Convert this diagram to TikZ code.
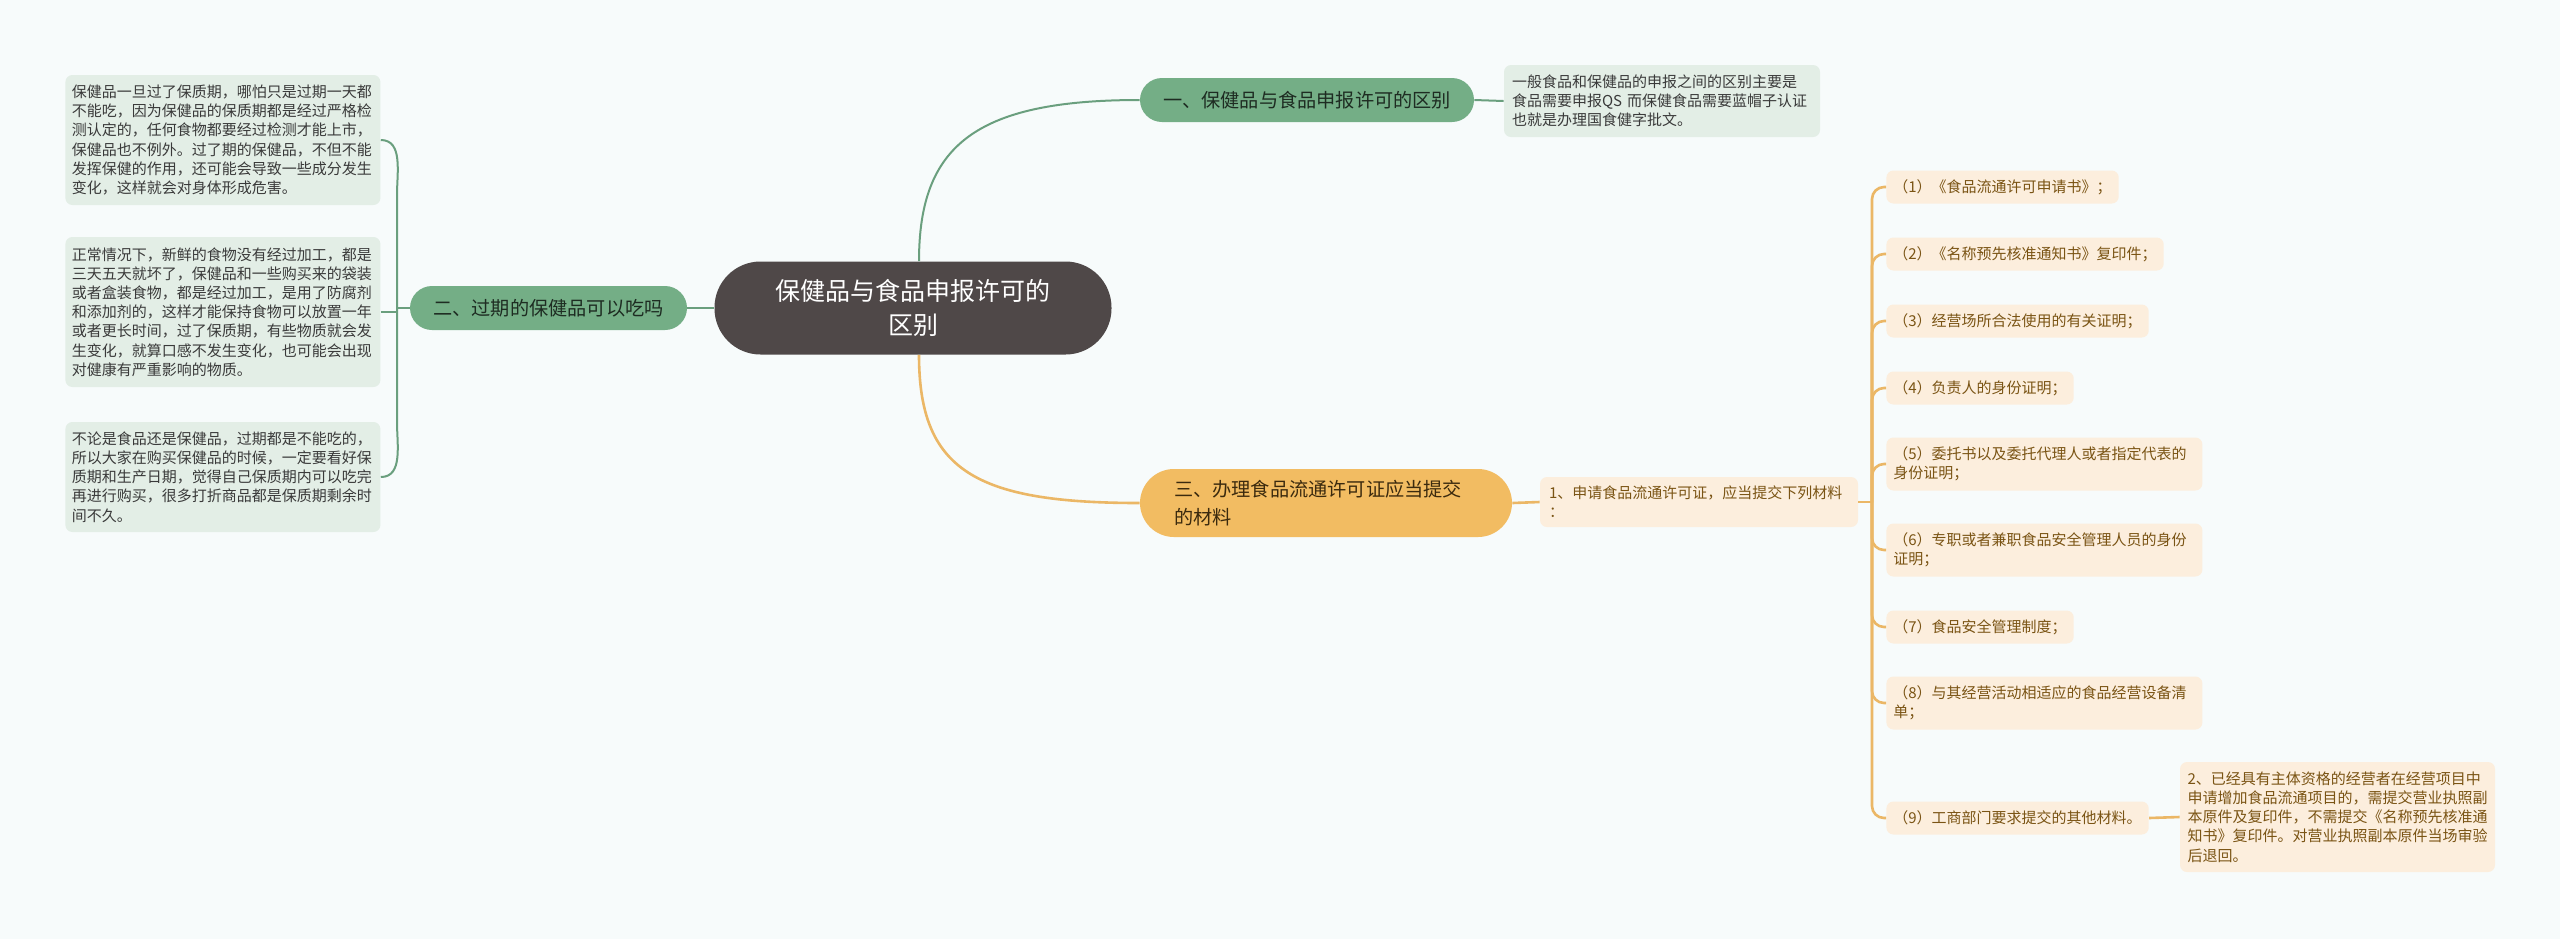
\documentclass[tikz,border=0pt]{standalone}
\usepackage{fontspec}
\setmainfont{Noto Sans CJK SC}
\definecolor{bgc}{HTML}{F7FBFB}
\definecolor{darkc}{HTML}{4F4848}
\definecolor{bgreen}{HTML}{74AE86}
\definecolor{lgreen}{HTML}{E3EEE6}
\definecolor{gtext}{HTML}{1E2C22}
\definecolor{ltext}{HTML}{3A3A3A}
\definecolor{gline}{HTML}{6A9F7E}
\definecolor{borange}{HTML}{F2BC62}
\definecolor{lorange}{HTML}{FCEEDD}
\definecolor{otext}{HTML}{3B2A0E}
\definecolor{btext}{HTML}{7A5414}
\definecolor{oline}{HTML}{EBB766}
\begin{document}
\begin{tikzpicture}[x=0.5pt,y=-0.5pt,
  central/.style={fill=darkc, text=white, rounded corners=23pt, minimum width=198.5pt, minimum height=46.5pt, align=center, inner sep=0pt, font=\fontsize{12.5pt}{17pt}\selectfont},
  branchg/.style={fill=bgreen, text=gtext, rounded corners=11pt, minimum height=22pt, inner sep=0pt, font=\fontsize{9.6pt}{12pt}\selectfont},
  brancho/.style={fill=borange, text=otext, rounded corners=17pt, minimum height=34pt, inner ysep=0pt, align=left, font=\fontsize{9.6pt}{14pt}\selectfont},
  leafg/.style={fill=lgreen, text=ltext, rounded corners=3.5pt, inner ysep=0pt, align=left, font=\fontsize{7.5pt}{9.6pt}\selectfont},
  leafo/.style={fill=lorange, text=btext, rounded corners=3.5pt, inner ysep=0pt, inner xsep=3.5pt, align=left, minimum height=16.5pt, font=\fontsize{7.5pt}{9.6pt}\selectfont},
  gconn/.style={draw=gline, line width=1pt},
  oconn/.style={draw=oline, line width=1.3pt}
]
\fill[bgc] (0,0) rectangle (2560,939);
\useasboundingbox (0,0) rectangle (2560,939);

% central
\node[central] (c) at (913,308) {保健品与食品申报许可的\\区别};

% branch 1
\node[branchg, minimum width=167pt] (b1) at (1307,100) {一、保健品与食品申报许可的区别};
\node[leafg, text width=150pt, inner xsep=4pt, minimum height=36pt] (lf1) at (1662,101) {一般食品和保健品的申报之间的区别主要是\\食品需要申报QS 而保健食品需要蓝帽子认证\\也就是办理国食健字批文。};

% branch 2
\node[branchg, minimum width=138.5pt] (b2) at (548.5,308) {二、过期的保健品可以吃吗};
\node[leafg, text width=151pt, inner xsep=3.25pt, minimum height=65pt, anchor=west] (L1) at (65,140) {保健品一旦过了保质期，哪怕只是过期一天都\\不能吃，因为保健品的保质期都是经过严格检\\测认定的，任何食物都要经过检测才能上市，\\保健品也不例外。过了期的保健品，不但不能\\发挥保健的作用，还可能会导致一些成分发生\\变化，这样就会对身体形成危害。};
\node[leafg, text width=151pt, inner xsep=3.25pt, minimum height=75pt, anchor=west] (L2) at (65,312) {正常情况下，新鲜的食物没有经过加工，都是\\三天五天就坏了，保健品和一些购买来的袋装\\或者盒装食物，都是经过加工，是用了防腐剂\\和添加剂的，这样才能保持食物可以放置一年\\或者更长时间，过了保质期，有些物质就会发\\生变化，就算口感不发生变化，也可能会出现\\对健康有严重影响的物质。};
\node[leafg, text width=151pt, inner xsep=3.25pt, minimum height=55pt, anchor=west] (L3) at (65,477) {不论是食品还是保健品，过期都是不能吃的，\\所以大家在购买保健品的时候，一定要看好保\\质期和生产日期，觉得自己保质期内可以吃完\\再进行购买，很多打折商品都是保质期剩余时\\间不久。};

% branch 3
\node[brancho, text width=152pt, inner xsep=17pt] (b3) at (1326,503) {三、办理食品流通许可证应当提交\\的材料};
\node[leafo, text width=150pt, inner xsep=4.5pt, minimum height=25pt] (n1) at (1699,502) {1、申请食品流通许可证，应当提交下列材料\\：};

\node[leafo, anchor=west] (i1) at (1886,187) {（1）《食品流通许可申请书》；};
\node[leafo, anchor=west] (i2) at (1886,254) {（2）《名称预先核准通知书》复印件；};
\node[leafo, anchor=west] (i3) at (1886,321) {（3）经营场所合法使用的有关证明；};
\node[leafo, anchor=west] (i4) at (1886,388) {（4）负责人的身份证明；};
\node[leafo, anchor=west, text width=151pt, minimum height=26.5pt] (i5) at (1886,464) {（5）委托书以及委托代理人或者指定代表的\\身份证明；};
\node[leafo, anchor=west, text width=151pt, minimum height=26.5pt] (i6) at (1886,550) {（6）专职或者兼职食品安全管理人员的身份\\证明；};
\node[leafo, anchor=west] (i7) at (1886,627) {（7）食品安全管理制度；};
\node[leafo, anchor=west, text width=151pt, minimum height=26.5pt] (i8) at (1886,703) {（8）与其经营活动相适应的食品经营设备清\\单；};
\node[leafo, anchor=west] (i9) at (1886,818) {（9）工商部门要求提交的其他材料。};
\node[leafo, text width=150pt, inner xsep=3.75pt, minimum height=55pt] (n2) at (2337.5,817) {2、已经具有主体资格的经营者在经营项目中\\申请增加食品流通项目的，需提交营业执照副\\本原件及复印件，不需提交《名称预先核准通\\知书》复印件。对营业执照副本原件当场审验\\后退回。};

% coordinates
\coordinate (j2) at (397,308);
\coordinate (k1) at (397,195);
\coordinate (k3) at (397,422);
\coordinate (j3) at (1872,502);

% connectors
\draw[gconn] ([xshift=3pt]c.north) .. controls +(0,-115) and +(-165,0) .. (b1.west);
\draw[gconn] (b1.east) -- (lf1.west);
\draw[gconn] (c.west) -- (b2.east);
\draw[gconn] (b2.west) -- (j2);
\draw[gconn] (L1.east) to[out=0,in=90] (k1) -- (k3) to[out=-90,in=0] (L3.east);
\draw[gconn] (L2.east) -- (L2.east -| j2);
\draw[oconn] ([xshift=3pt]c.south) .. controls +(0,115) and +(-165,0) .. (b3.west);
\draw[oconn] (b3.east) -- (n1.west);
\draw[oconn] (n1.east) -- (j3);
\foreach \i in {i1,i2,i3,i4,i5,i6,i7,i8,i9}{
  \draw[oconn, rounded corners=6pt] (j3) |- (\i.west);
}
\draw[oconn] (i9.east) -- (n2.west);
\end{tikzpicture}
\end{document}
